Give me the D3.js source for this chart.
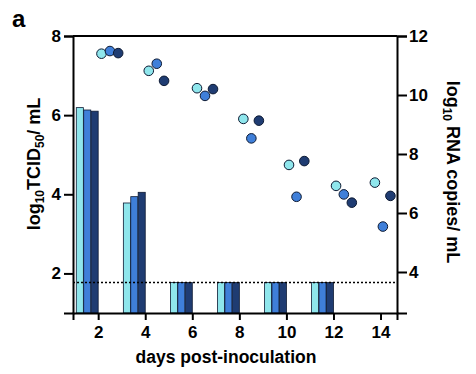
<!doctype html>
<html lang="en">
<head>
<meta charset="utf-8">
<script src="https://cdn.jsdelivr.net/npm/d3@7/dist/d3.min.js"></script>
<style>
  body { margin:0; background:#fff; font-family: "Liberation Sans", Arial, sans-serif; }
  svg { display:block; }
</style>
</head>
<body>
<script>
// bar data: log10 TCID50/mL per day, one array per animal
const barDays = [2, 4, 6, 8, 10, 12];
const barValues = [
  [6.19, 3.78, 1.77, 1.77, 1.77, 1.77],
  [6.13, 3.94, 1.77, 1.77, 1.77, 1.77],
  [6.10, 4.05, 1.77, 1.77, 1.77, 1.77]
];
// point data: log10 RNA copies/mL (x positions)
const pointDays = [
  [2.14, 4.15, 6.20, 8.17, 10.11, 12.11, 13.76],
  [2.50, 4.49, 6.54, 8.51, 10.43, 12.44, 14.10],
  [2.85, 4.80, 6.88, 8.83, 10.76, 12.78, 14.42]
];
const pointValues = [
  [11.40, 10.82, 10.23, 9.19, 7.63, 6.92, 7.03],
  [11.49, 11.06, 9.97, 8.53, 6.55, 6.63, 5.54],
  [11.42, 10.48, 10.20, 9.13, 7.76, 6.35, 6.58]
];
const lod = 1.77;
const xTicks = [2, 4, 6, 8, 10, 12, 14];
const yLeftTicks = [2, 4, 6, 8];
const yRightTicks = [4, 6, 8, 10, 12];
const colors = ["#8fe6ec", "#3f7fd9", "#1f3c72"];

const W = 476, H = 374;
const mLeft = 73, mRight = 397, mTop = 36, mBottom = 313;

const svg = d3.select("body").append("svg").attr("width", W).attr("height", H);

const x = d3.scaleLinear().domain([0.93, 14.7]).range([mLeft, mRight]);
const yL = d3.scaleLinear().domain([1, 8]).range([mBottom, mTop]);
const yR = d3.scaleLinear().domain([2.61, 12]).range([mBottom, mTop]);

// bars
const barW = 0.3;
barValues.forEach((vals, s) => {
  svg.append("g").selectAll("rect")
    .data(barDays.map((d, i) => ({d: d, v: vals[i]})))
    .enter().append("rect")
    .attr("x", d => x(d.d - 0.93 + s * 0.315))
    .attr("width", x(barW) - x(0))
    .attr("y", d => yL(d.v))
    .attr("height", d => yL(1) - yL(d.v))
    .attr("fill", colors[s])
    .attr("stroke", "#0d1a33")
    .attr("stroke-width", 0.8);
});

// detection limit
svg.append("line")
  .attr("x1", mLeft).attr("x2", mRight)
  .attr("y1", yL(lod)).attr("y2", yL(lod))
  .attr("stroke", "#000").attr("stroke-width", 1.6)
  .attr("stroke-dasharray", "2,2");

// points
pointValues.forEach((vals, s) => {
  svg.append("g").selectAll("circle")
    .data(vals.map((v, i) => ({d: pointDays[s][i], v: v})))
    .enter().append("circle")
    .attr("cx", d => x(d.d))
    .attr("cy", d => yR(d.v))
    .attr("r", 4.8)
    .attr("fill", colors[s])
    .attr("stroke", "#0d1a33")
    .attr("stroke-width", 1);
});

// frame top
svg.append("line").attr("x1", mLeft).attr("x2", mRight).attr("y1", mTop).attr("y2", mTop)
  .attr("stroke", "#000").attr("stroke-width", 2);

// axes
const styleAxis = g => {
  g.select(".domain").attr("stroke-width", 2);
  g.selectAll(".tick line").attr("stroke-width", 2);
  g.selectAll(".tick text")
    .attr("font-family", "Liberation Sans, Arial, sans-serif")
    .attr("font-size", 17).attr("font-weight", "bold").attr("fill", "#000");
};
const fmt = d3.format("d");
svg.append("g").attr("transform", `translate(0,${mBottom})`)
  .call(d3.axisBottom(x).tickValues(xTicks).tickFormat(fmt).tickSizeOuter(0).tickSize(7).tickPadding(6))
  .call(styleAxis);
svg.append("g").attr("transform", `translate(${mLeft},0)`)
  .call(d3.axisLeft(yL).tickValues(yLeftTicks).tickFormat(fmt).tickSizeOuter(0).tickSize(9).tickPadding(3))
  .call(styleAxis);
svg.append("g").attr("transform", `translate(${mRight},0)`)
  .call(d3.axisRight(yR).tickValues(yRightTicks).tickFormat(fmt).tickSizeOuter(0).tickSize(10).tickPadding(2))
  .call(styleAxis);

// labels
svg.append("text").attr("x", 12).attr("y", 27)
  .attr("font-size", 24).attr("font-weight", "bold").text("a");

svg.append("text").attr("x", 226).attr("y", 363)
  .attr("text-anchor", "middle").attr("font-size", 17.5).attr("font-weight", "bold")
  .text("days post-inoculation");

const lt = svg.append("text")
  .attr("transform", `translate(40,164) rotate(-90)`)
  .attr("text-anchor", "middle").attr("font-size", 18).attr("font-weight", "bold");
lt.append("tspan").text("log");
lt.append("tspan").attr("font-size", 12).attr("dy", 4).text("10");
lt.append("tspan").attr("dy", -4).text("TCID");
lt.append("tspan").attr("font-size", 12).attr("dy", 4).text("50");
lt.append("tspan").attr("dy", -4).text("/ mL");

const rt = svg.append("text")
  .attr("transform", `translate(447,172) rotate(90)`)
  .attr("text-anchor", "middle").attr("font-size", 18).attr("font-weight", "bold");
rt.append("tspan").text("log");
rt.append("tspan").attr("font-size", 12).attr("dy", 4).text("10");
rt.append("tspan").attr("dy", -4).text(" RNA copies/ mL");
</script>
</body>
</html>
